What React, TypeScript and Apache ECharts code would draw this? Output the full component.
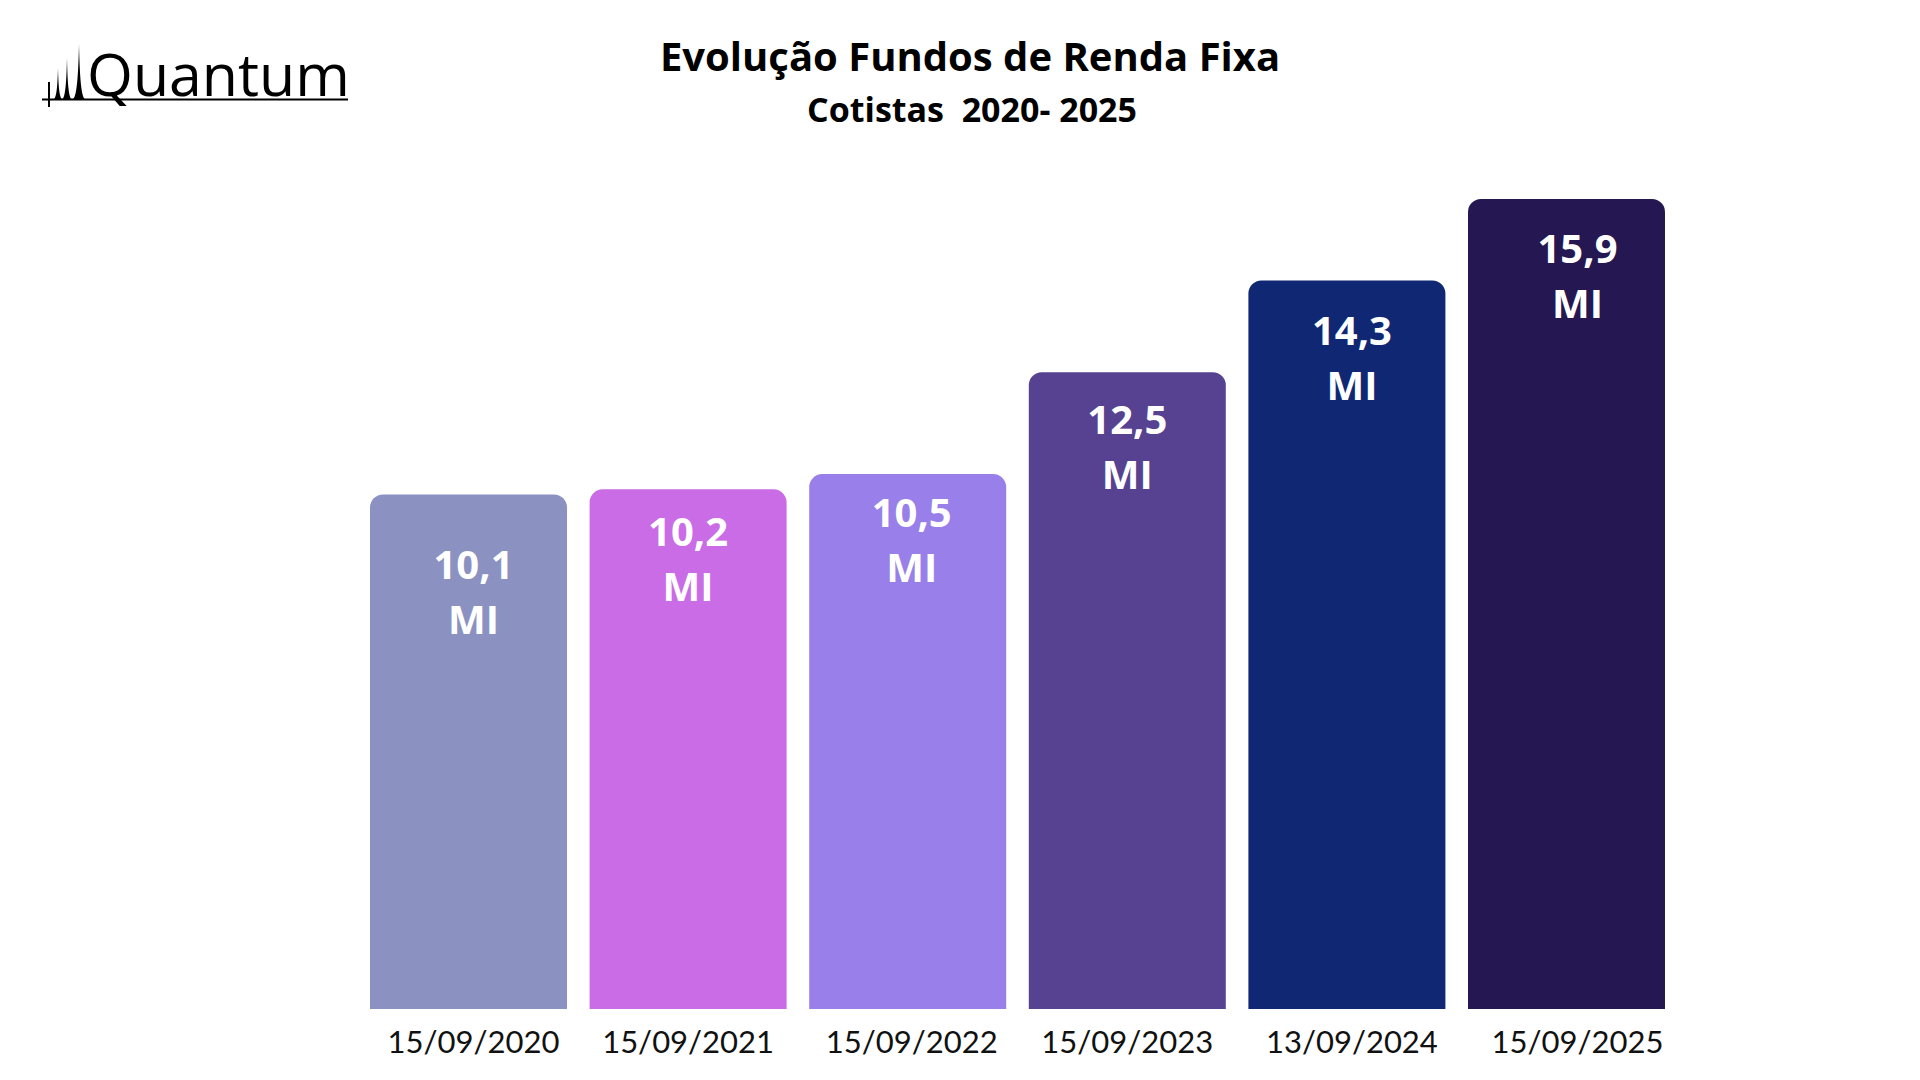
import React, { useEffect, useRef } from "react";
import * as echarts from "echarts";

const categories = ["15/09/2020", "15/09/2021", "15/09/2022", "15/09/2023", "13/09/2024", "15/09/2025"];
const values = [10.1, 10.2, 10.5, 12.5, 14.3, 15.9];
const barColors = ["#8B92C1", "#C96CE6", "#987FE9", "#574191", "#102874", "#251752"];
const titleText = "Evolução Fundos de Renda Fixa";
const subtitleText = "Cotistas  2020- 2025";
const logoText = "Quantum";

// label placement tweaks (style only)
const labelDistances = [42, 14, 10, 19, 21, 21];
const labelShiftX = [5, 0, 4, 0, 5, 11];

const spikePath =
  "M54 99 C57 97 57.6 82 58 68 C58.4 82 59 97 62 99 Z " +
  "M62.5 99 C66 97 66.6 74 67 58 C67.4 74 68 97 71.5 99 Z " +
  "M73 99 C77.5 97 78.5 66 79 44 C79.5 66 80.5 97 85 99 Z";

echarts.graphic.registerShape("logo", echarts.graphic.extendPath(spikePath, {}));

export default function App() {
  const ref = useRef<HTMLDivElement>(null);
  useEffect(() => {
    if (!ref.current) return;
    const chart = echarts.init(ref.current, null, { renderer: "svg" });
    chart.setOption({
      animation: false,
      backgroundColor: "#ffffff",
      grid: { left: 358.7, right: 243.7, top: 193.9, bottom: 71, containLabel: false },
      xAxis: {
        type: "category",
        data: categories.map((c, i) => ({
          value: c,
          textStyle: { padding: [0, 0, 0, 2 * labelShiftX[i]] },
        })),
        axisLine: { show: false },
        axisTick: { show: false },
        axisLabel: {
          color: "#111111",
          fontFamily: "Lato",
          fontSize: 31,
          margin: 16,
          interval: 0,
        },
      },
      yAxis: {
        type: "value",
        min: 0,
        max: 16,
        show: false,
        splitLine: { show: false },
      },
      series: [
        {
          type: "bar",
          barWidth: 197,
          data: values.map((v, i) => ({
            value: v,
            itemStyle: { color: barColors[i] },
            label: { distance: labelDistances[i], offset: [labelShiftX[i], 0] },
          })),
          itemStyle: { borderRadius: [13, 13, 0, 0] },
          label: {
            show: true,
            position: "insideTop",
            distance: 21,
            color: "#ffffff",
            fontFamily: "Open Sans",
            fontWeight: "bold",
            fontSize: 40,
            lineHeight: 55,
            align: "center",
            formatter: (p: any) => p.value.toFixed(1).replace(".", ",") + "\nMI",
          },
        },
      ],
      graphic: [
        {
          type: "text",
          x: 970,
          y: 55,
          style: {
            text: titleText,
            fontFamily: "Open Sans",
            fontWeight: "bold",
            fontSize: 40,
            fill: "#000000",
            textAlign: "center",
            textVerticalAlign: "middle",
          },
        },
        {
          type: "text",
          x: 972,
          y: 109,
          style: {
            text: subtitleText,
            fontFamily: "Open Sans",
            fontWeight: "bold",
            fontSize: 34,
            fill: "#000000",
            textAlign: "center",
            textVerticalAlign: "middle",
          },
        },
        {
          type: "text",
          x: 87,
          y: 73,
          style: {
            text: logoText,
            fontFamily: "Open Sans",
            fontSize: 59,
            fill: "#000000",
            textAlign: "left",
            textVerticalAlign: "middle",
          },
        },
        {
          type: "line",
          shape: { x1: 42, y1: 99.5, x2: 348, y2: 99.5 },
          style: { stroke: "#000000", lineWidth: 2 },
        },
        {
          type: "line",
          shape: { x1: 49, y1: 82, x2: 49, y2: 107 },
          style: { stroke: "#000000", lineWidth: 2 },
        },
        {
          type: "logo",
          x: 0,
          y: 0,
          scaleX: 1,
          scaleY: 1,
          style: { fill: "#000000" },
        },
      ],
    });
    return () => chart.dispose();
  }, []);
  return (
    <div
      ref={ref}
      style={{ position: "fixed", left: 0, top: 0, width: 1920, height: 1080, background: "#fff" }}
    />
  );
}
